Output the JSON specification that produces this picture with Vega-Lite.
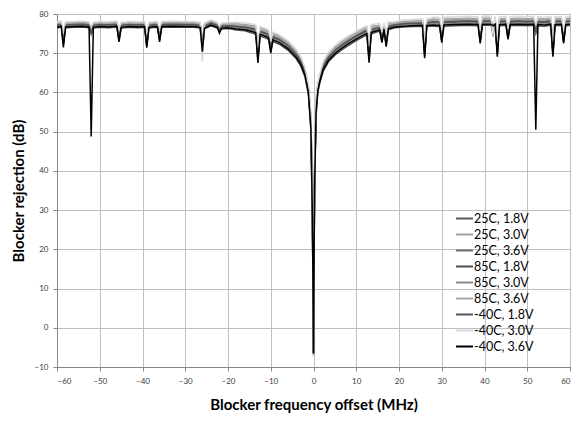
{
"$schema": "https://vega.github.io/schema/vega-lite/v6.json",
"width": 513, "height": 353,
"autosize": {"type": "none"},
"padding": {"left": 57, "top": 14, "right": 9, "bottom": 58},
"background": "white",
"datasets": {"names": [
{"k":"a","series":"25C, 1.8V"},{"k":"b","series":"25C, 3.0V"},{"k":"c","series":"25C, 3.6V"},
{"k":"d","series":"85C, 1.8V"},{"k":"e","series":"85C, 3.0V"},{"k":"f","series":"85C, 3.6V"},
{"k":"g","series":"-40C, 1.8V"},{"k":"h","series":"-40C, 3.0V"},{"k":"i","series":"-40C, 3.6V"}]},
"data": {"values": [
{"x":-60,"a":77.0,"b":77.6,"c":77.3,"d":76.4,"e":76.8,"f":77.4,"g":77.1,"h":77.9,"i":76.6},
{"x":-59,"a":77.3,"b":77.9,"c":77.6,"d":76.7,"e":77.1,"f":77.7,"g":77.4,"h":78.2,"i":76.9},
{"x":-58.5,"a":72.8,"b":74.0,"c":73.2,"d":72.3,"e":73.5,"f":74.3,"g":72.6,"h":75.0,"i":71.5},
{"x":-58,"a":77.1,"b":77.7,"c":77.4,"d":76.5,"e":76.9,"f":77.5,"g":77.2,"h":78.0,"i":76.7},
{"x":-56,"a":77.2,"b":77.8,"c":77.5,"d":76.6,"e":77.0,"f":77.6,"g":77.3,"h":78.1,"i":76.8},
{"x":-54,"a":77.3,"b":77.9,"c":77.6,"d":76.7,"e":77.1,"f":77.7,"g":77.4,"h":78.2,"i":76.9},
{"x":-52.5,"a":77.1,"b":77.7,"c":77.4,"d":76.5,"e":76.9,"f":77.5,"g":77.2,"h":78.0,"i":76.7},
{"x":-52,"a":75.5,"b":76.0,"c":75.8,"d":74.8,"e":75.2,"f":76.2,"g":75.0,"h":76.8,"i":48.8},
{"x":-51.5,"a":77.0,"b":77.6,"c":77.3,"d":76.4,"e":76.8,"f":77.4,"g":77.1,"h":77.9,"i":76.6},
{"x":-50,"a":77.2,"b":77.8,"c":77.5,"d":76.6,"e":77.0,"f":77.6,"g":77.3,"h":78.1,"i":76.8},
{"x":-48,"a":77.1,"b":77.7,"c":77.4,"d":76.5,"e":76.9,"f":77.5,"g":77.2,"h":78.0,"i":76.7},
{"x":-46,"a":77.3,"b":77.9,"c":77.6,"d":76.7,"e":77.1,"f":77.7,"g":77.4,"h":78.2,"i":76.9},
{"x":-45.5,"a":73.8,"b":75.0,"c":74.2,"d":73.3,"e":74.5,"f":75.3,"g":73.6,"h":76.0,"i":72.9},
{"x":-45,"a":77.0,"b":77.6,"c":77.3,"d":76.4,"e":76.8,"f":77.4,"g":77.1,"h":77.9,"i":76.6},
{"x":-43,"a":77.2,"b":77.8,"c":77.5,"d":76.6,"e":77.0,"f":77.6,"g":77.3,"h":78.1,"i":76.8},
{"x":-41,"a":77.1,"b":77.7,"c":77.4,"d":76.5,"e":76.9,"f":77.5,"g":77.2,"h":78.0,"i":76.7},
{"x":-39.5,"a":77.2,"b":77.8,"c":77.5,"d":76.6,"e":77.0,"f":77.6,"g":77.3,"h":78.1,"i":76.8},
{"x":-39,"a":72.5,"b":73.8,"c":72.0,"d":71.8,"e":73.2,"f":74.0,"g":72.2,"h":74.8,"i":71.4},
{"x":-38.5,"a":77.0,"b":77.6,"c":77.3,"d":76.4,"e":76.8,"f":77.4,"g":77.1,"h":77.9,"i":76.6},
{"x":-37,"a":77.2,"b":77.8,"c":77.5,"d":76.6,"e":77.0,"f":77.6,"g":77.3,"h":78.1,"i":76.8},
{"x":-36.5,"a":77.1,"b":77.7,"c":77.4,"d":76.5,"e":76.9,"f":77.5,"g":77.2,"h":78.0,"i":76.7},
{"x":-36,"a":73.9,"b":75.2,"c":74.0,"d":73.4,"e":74.6,"f":75.5,"g":73.7,"h":76.1,"i":72.9},
{"x":-35.5,"a":77.2,"b":77.8,"c":77.5,"d":76.6,"e":77.0,"f":77.6,"g":77.3,"h":78.1,"i":76.8},
{"x":-33,"a":77.3,"b":77.9,"c":77.6,"d":76.7,"e":77.1,"f":77.7,"g":77.4,"h":78.2,"i":76.9},
{"x":-30,"a":77.2,"b":77.8,"c":77.5,"d":76.6,"e":77.0,"f":77.6,"g":77.3,"h":78.1,"i":76.8},
{"x":-28,"a":77.2,"b":77.8,"c":77.5,"d":76.6,"e":77.0,"f":77.6,"g":77.3,"h":78.1,"i":76.8},
{"x":-26.5,"a":77.0,"b":77.6,"c":77.3,"d":76.4,"e":76.8,"f":77.4,"g":77.1,"h":77.9,"i":76.6},
{"x":-26,"a":71.5,"b":72.8,"c":71.2,"d":71.0,"e":72.0,"f":72.5,"g":71.3,"h":67.8,"i":70.4},
{"x":-25.5,"a":76.8,"b":77.4,"c":77.1,"d":76.2,"e":76.6,"f":77.2,"g":76.9,"h":77.7,"i":76.4},
{"x":-24,"a":77.6,"b":78.2,"c":77.9,"d":77.0,"e":77.4,"f":78.0,"g":77.7,"h":78.5,"i":77.2},
{"x":-22.5,"a":77.0,"b":77.6,"c":77.3,"d":76.4,"e":76.8,"f":77.4,"g":77.1,"h":77.9,"i":76.6},
{"x":-22,"a":75.8,"b":76.5,"c":76.0,"d":75.5,"e":75.8,"f":76.4,"g":75.6,"h":76.9,"i":75.1},
{"x":-21.5,"a":76.8,"b":77.4,"c":77.1,"d":76.2,"e":76.6,"f":77.2,"g":76.9,"h":77.7,"i":76.4},
{"x":-20,"a":76.9,"b":77.5,"c":77.2,"d":76.3,"e":76.7,"f":77.3,"g":77.0,"h":77.8,"i":76.5},
{"x":-18,"a":76.7,"b":77.5,"c":77.1,"d":75.9,"e":76.4,"f":77.2,"g":76.8,"h":77.9,"i":76.2},
{"x":-16,"a":76.5,"b":77.3,"c":76.9,"d":75.7,"e":76.2,"f":77.0,"g":76.6,"h":77.7,"i":76.0},
{"x":-14,"a":76.0,"b":77.0,"c":76.5,"d":75.0,"e":75.7,"f":76.6,"g":76.2,"h":77.4,"i":75.4},
{"x":-13.5,"a":75.8,"b":76.8,"c":76.3,"d":74.8,"e":75.5,"f":76.4,"g":76.0,"h":77.2,"i":75.2},
{"x":-13,"a":69.0,"b":70.5,"c":69.5,"d":68.2,"e":69.8,"f":70.8,"g":68.8,"h":71.5,"i":67.5},
{"x":-12.5,"a":75.4,"b":76.4,"c":75.9,"d":74.4,"e":75.1,"f":76.0,"g":75.6,"h":76.8,"i":74.8},
{"x":-11,"a":74.8,"b":75.8,"c":75.3,"d":73.8,"e":74.5,"f":75.4,"g":75.0,"h":76.2,"i":74.2},
{"x":-10.5,"a":74.5,"b":75.5,"c":75.0,"d":73.5,"e":74.2,"f":75.1,"g":74.7,"h":75.9,"i":73.9},
{"x":-10,"a":71.0,"b":72.2,"c":71.5,"d":70.5,"e":71.6,"f":72.4,"g":71.0,"h":73.0,"i":70.0},
{"x":-9.5,"a":74.0,"b":75.0,"c":74.5,"d":73.0,"e":73.7,"f":74.6,"g":74.2,"h":75.4,"i":73.4},
{"x":-8,"a":73.3,"b":74.3,"c":73.8,"d":72.3,"e":73.0,"f":73.9,"g":73.5,"h":74.7,"i":72.7},
{"x":-6,"a":71.8,"b":72.8,"c":72.3,"d":70.8,"e":71.5,"f":72.4,"g":72.0,"h":73.2,"i":71.2},
{"x":-4,"a":69.5,"b":70.5,"c":70.0,"d":68.5,"e":69.2,"f":70.1,"g":69.7,"h":70.9,"i":68.9},
{"x":-3,"a":67.8,"b":68.8,"c":68.3,"d":66.8,"e":67.5,"f":68.4,"g":68.0,"h":69.2,"i":67.2},
{"x":-2,"a":65.0,"b":66.0,"c":65.5,"d":64.0,"e":64.7,"f":65.6,"g":65.2,"h":66.4,"i":64.4},
{"x":-1.2,"a":60.6,"b":61.6,"c":61.1,"d":59.6,"e":60.3,"f":61.2,"g":60.8,"h":62.0,"i":60.0},
{"x":-0.6,"a":52.0,"b":53.8,"c":52.9,"d":50.2,"e":51.4,"f":53.2,"g":52.3,"h":54.7,"i":50.8},
{"x":-0.25,"a":30.0,"b":33.0,"c":31.5,"d":27.0,"e":29.0,"f":32.0,"g":30.5,"h":34.5,"i":28.0},
{"x":0,"a":-6.5,"b":-7.0,"c":-6.8,"d":-6.2,"e":-6.6,"f":-7.0,"g":-6.3,"h":-7.4,"i":-6.6},
{"x":0.25,"a":38.0,"b":41.0,"c":39.5,"d":35.0,"e":37.0,"f":40.0,"g":38.5,"h":42.5,"i":36.0},
{"x":0.6,"a":56.0,"b":57.8,"c":56.9,"d":54.2,"e":55.4,"f":57.2,"g":56.3,"h":58.7,"i":54.8},
{"x":1,"a":61.0,"b":62.0,"c":61.5,"d":60.0,"e":60.7,"f":61.6,"g":61.2,"h":62.4,"i":60.4},
{"x":1.5,"a":63.5,"b":64.5,"c":64.0,"d":62.5,"e":63.2,"f":64.1,"g":63.7,"h":64.9,"i":62.9},
{"x":2.3,"a":66.5,"b":67.5,"c":67.0,"d":65.5,"e":66.2,"f":67.1,"g":66.7,"h":67.9,"i":65.9},
{"x":3.5,"a":68.8,"b":69.8,"c":69.3,"d":67.8,"e":68.5,"f":69.4,"g":69.0,"h":70.2,"i":68.2},
{"x":5,"a":70.5,"b":71.5,"c":71.0,"d":69.5,"e":70.2,"f":71.1,"g":70.7,"h":71.9,"i":69.9},
{"x":6.5,"a":71.8,"b":72.8,"c":72.3,"d":70.8,"e":71.5,"f":72.4,"g":72.0,"h":73.2,"i":71.2},
{"x":8,"a":72.9,"b":73.9,"c":73.4,"d":71.9,"e":72.6,"f":73.5,"g":73.1,"h":74.3,"i":72.3},
{"x":10,"a":74.2,"b":75.2,"c":74.7,"d":73.2,"e":73.9,"f":74.8,"g":74.4,"h":75.6,"i":73.6},
{"x":12,"a":75.4,"b":76.4,"c":75.9,"d":74.4,"e":75.1,"f":76.0,"g":75.6,"h":76.8,"i":74.8},
{"x":12.5,"a":75.6,"b":76.6,"c":76.1,"d":74.6,"e":75.3,"f":76.2,"g":75.8,"h":77.0,"i":75.0},
{"x":13,"a":69.2,"b":70.6,"c":69.6,"d":68.4,"e":70.0,"f":71.0,"g":69.0,"h":71.8,"i":67.6},
{"x":13.5,"a":75.9,"b":76.9,"c":76.4,"d":74.9,"e":75.6,"f":76.5,"g":76.1,"h":77.3,"i":75.3},
{"x":15,"a":76.3,"b":77.1,"c":76.7,"d":75.5,"e":76.0,"f":76.8,"g":76.4,"h":77.5,"i":75.8},
{"x":15.5,"a":76.4,"b":77.2,"c":76.8,"d":75.6,"e":76.1,"f":76.9,"g":76.5,"h":77.6,"i":75.9},
{"x":16,"a":73.5,"b":74.6,"c":73.8,"d":73.0,"e":74.0,"f":74.8,"g":73.4,"h":75.4,"i":72.7},
{"x":16.5,"a":76.6,"b":77.4,"c":77.0,"d":75.8,"e":76.3,"f":77.1,"g":76.7,"h":77.8,"i":76.1},
{"x":17,"a":72.6,"b":73.8,"c":72.9,"d":72.0,"e":73.2,"f":74.0,"g":72.4,"h":74.6,"i":71.7},
{"x":17.5,"a":76.8,"b":77.6,"c":77.2,"d":76.0,"e":76.5,"f":77.3,"g":76.9,"h":78.0,"i":76.3},
{"x":19,"a":77.1,"b":77.7,"c":77.4,"d":76.5,"e":76.9,"f":77.5,"g":77.2,"h":78.0,"i":76.7},
{"x":21,"a":77.4,"b":78.1,"c":77.8,"d":76.7,"e":77.2,"f":77.9,"g":77.5,"h":78.5,"i":76.9},
{"x":23,"a":77.5,"b":78.2,"c":77.9,"d":76.8,"e":77.3,"f":78.0,"g":77.6,"h":78.6,"i":77.0},
{"x":25.5,"a":77.6,"b":78.3,"c":78.0,"d":76.9,"e":77.4,"f":78.1,"g":77.7,"h":78.7,"i":77.1},
{"x":26,"a":70.0,"b":71.5,"c":70.4,"d":69.2,"e":70.8,"f":71.8,"g":69.8,"h":72.6,"i":68.7},
{"x":26.5,"a":77.6,"b":78.3,"c":78.0,"d":76.9,"e":77.4,"f":78.1,"g":77.7,"h":78.7,"i":77.1},
{"x":28,"a":77.8,"b":78.7,"c":78.3,"d":76.9,"e":77.5,"f":78.4,"g":78.0,"h":79.2,"i":77.2},
{"x":29.5,"a":77.7,"b":78.6,"c":78.2,"d":76.8,"e":77.4,"f":78.3,"g":77.9,"h":79.1,"i":77.1},
{"x":30,"a":73.6,"b":74.8,"c":74.0,"d":73.0,"e":74.2,"f":75.0,"g":73.4,"h":75.8,"i":72.7},
{"x":30.5,"a":77.8,"b":78.7,"c":78.3,"d":76.9,"e":77.5,"f":78.4,"g":78.0,"h":79.2,"i":77.2},
{"x":33,"a":77.9,"b":78.8,"c":78.4,"d":77.0,"e":77.6,"f":78.5,"g":78.1,"h":79.3,"i":77.3},
{"x":36,"a":78.0,"b":78.9,"c":78.5,"d":77.1,"e":77.7,"f":78.6,"g":78.2,"h":79.4,"i":77.4},
{"x":38.5,"a":77.9,"b":78.8,"c":78.4,"d":77.0,"e":77.6,"f":78.5,"g":78.1,"h":79.3,"i":77.3},
{"x":39,"a":73.4,"b":74.6,"c":73.8,"d":72.8,"e":74.0,"f":74.9,"g":73.2,"h":75.6,"i":72.5},
{"x":39.5,"a":78.0,"b":78.9,"c":78.5,"d":77.1,"e":77.7,"f":78.6,"g":78.2,"h":79.4,"i":77.4},
{"x":41.5,"a":78.0,"b":78.9,"c":78.5,"d":77.1,"e":77.7,"f":78.6,"g":78.2,"h":79.4,"i":77.4},
{"x":42,"a":75.5,"b":74.2,"c":76.0,"d":75.8,"e":74.8,"f":74.5,"g":76.2,"h":75.0,"i":77.0},
{"x":42.5,"a":78.0,"b":78.9,"c":78.5,"d":77.1,"e":77.7,"f":78.6,"g":78.2,"h":79.4,"i":77.4},
{"x":43,"a":70.2,"b":71.6,"c":70.6,"d":69.6,"e":71.0,"f":72.0,"g":70.0,"h":72.8,"i":69.1},
{"x":43.5,"a":77.9,"b":78.8,"c":78.4,"d":77.0,"e":77.6,"f":78.5,"g":78.1,"h":79.3,"i":77.3},
{"x":45,"a":78.0,"b":78.9,"c":78.5,"d":77.1,"e":77.7,"f":78.6,"g":78.2,"h":79.4,"i":77.4},
{"x":45.5,"a":74.2,"b":75.3,"c":74.5,"d":73.8,"e":74.8,"f":75.6,"g":74.0,"h":76.2,"i":73.5},
{"x":46,"a":77.9,"b":78.8,"c":78.4,"d":77.0,"e":77.6,"f":78.5,"g":78.1,"h":79.3,"i":77.3},
{"x":48,"a":78.0,"b":78.9,"c":78.5,"d":77.1,"e":77.7,"f":78.6,"g":78.2,"h":79.4,"i":77.4},
{"x":50,"a":77.9,"b":78.8,"c":78.4,"d":77.0,"e":77.6,"f":78.5,"g":78.1,"h":79.3,"i":77.3},
{"x":51.5,"a":78.0,"b":78.9,"c":78.5,"d":77.1,"e":77.7,"f":78.6,"g":78.2,"h":79.4,"i":77.4},
{"x":52,"a":75.8,"b":76.5,"c":76.0,"d":75.0,"e":75.6,"f":76.6,"g":75.4,"h":77.2,"i":50.5},
{"x":52.5,"a":77.9,"b":78.8,"c":78.4,"d":77.0,"e":77.6,"f":78.5,"g":78.1,"h":79.3,"i":77.3},
{"x":54,"a":77.8,"b":78.7,"c":78.3,"d":76.9,"e":77.5,"f":78.4,"g":78.0,"h":79.2,"i":77.2},
{"x":55.5,"a":78.0,"b":78.9,"c":78.5,"d":77.1,"e":77.7,"f":78.6,"g":78.2,"h":79.4,"i":77.4},
{"x":56,"a":70.4,"b":71.8,"c":70.8,"d":69.6,"e":71.2,"f":72.2,"g":70.1,"h":73.0,"i":69.1},
{"x":56.5,"a":77.9,"b":78.8,"c":78.4,"d":77.0,"e":77.6,"f":78.5,"g":78.1,"h":79.3,"i":77.3},
{"x":58,"a":78.0,"b":78.9,"c":78.5,"d":77.1,"e":77.7,"f":78.6,"g":78.2,"h":79.4,"i":77.4},
{"x":58.5,"a":73.3,"b":74.5,"c":73.7,"d":72.8,"e":73.9,"f":74.8,"g":73.1,"h":75.5,"i":72.5},
{"x":59,"a":77.9,"b":78.8,"c":78.4,"d":77.0,"e":77.6,"f":78.5,"g":78.1,"h":79.3,"i":77.3},
{"x":60,"a":78.0,"b":78.9,"c":78.5,"d":77.1,"e":77.7,"f":78.6,"g":78.2,"h":79.4,"i":77.4}
]},
"transform": [
{"fold": ["a","b","c","d","e","f","g","h","i"], "as": ["k","y"]},
{"lookup": "k", "from": {"data": {"name": "names"}, "key": "k", "fields": ["series"]}}
],
"mark": {"type": "line", "strokeWidth": 1.5, "clip": true},
"encoding": {
"x": {"field": "x", "type": "quantitative", "scale": {"domain": [-60, 60], "nice": false},
  "axis": {"values": [-60,-50,-40,-30,-20,-10,0,10,20,30,40,50,60], "title": "Blocker frequency offset (MHz)", "labelPadding": 6, "titlePadding": 12}},
"y": {"field": "y", "type": "quantitative", "scale": {"domain": [-10, 80], "nice": false},
  "axis": {"values": [-10,0,10,20,30,40,50,60,70,80], "title": "Blocker rejection (dB)", "labelPadding": 5, "titlePadding": 8}},
"color": {"field": "series", "type": "nominal",
  "scale": {"domain": ["25C, 1.8V","25C, 3.0V","25C, 3.6V","85C, 1.8V","85C, 3.0V","85C, 3.6V","-40C, 1.8V","-40C, 3.0V","-40C, 3.6V"],
            "range": ["#595959","#a0a0a0","#6e6e6e","#4d4d4d","#8a8a8a","#a6a6a6","#555555","#d9d9d9","#000000"]},
  "legend": {"orient": "none", "legendX": 398, "legendY": 195, "title": null, "symbolType": "stroke", "symbolSize": 289, "symbolStrokeWidth": 2,
             "labelFont": "Lato", "labelFontSize": 12.5, "labelColor": "#000000", "rowPadding": 0, "padding": 0, "labelOffset": 0}}
},
"config": {
"view": {"stroke": null},
"axis": {"domainColor": "#868686", "tickColor": "#868686", "gridColor": "#bfbfbf", "gridWidth": 1, "tickSize": 4,
  "labelFont": "Lato", "labelFontSize": 8, "labelColor": "#404040",
  "titleFont": "Lato", "titleFontSize": 15, "titleFontWeight": "bold", "titleColor": "#000000"}
}
}
